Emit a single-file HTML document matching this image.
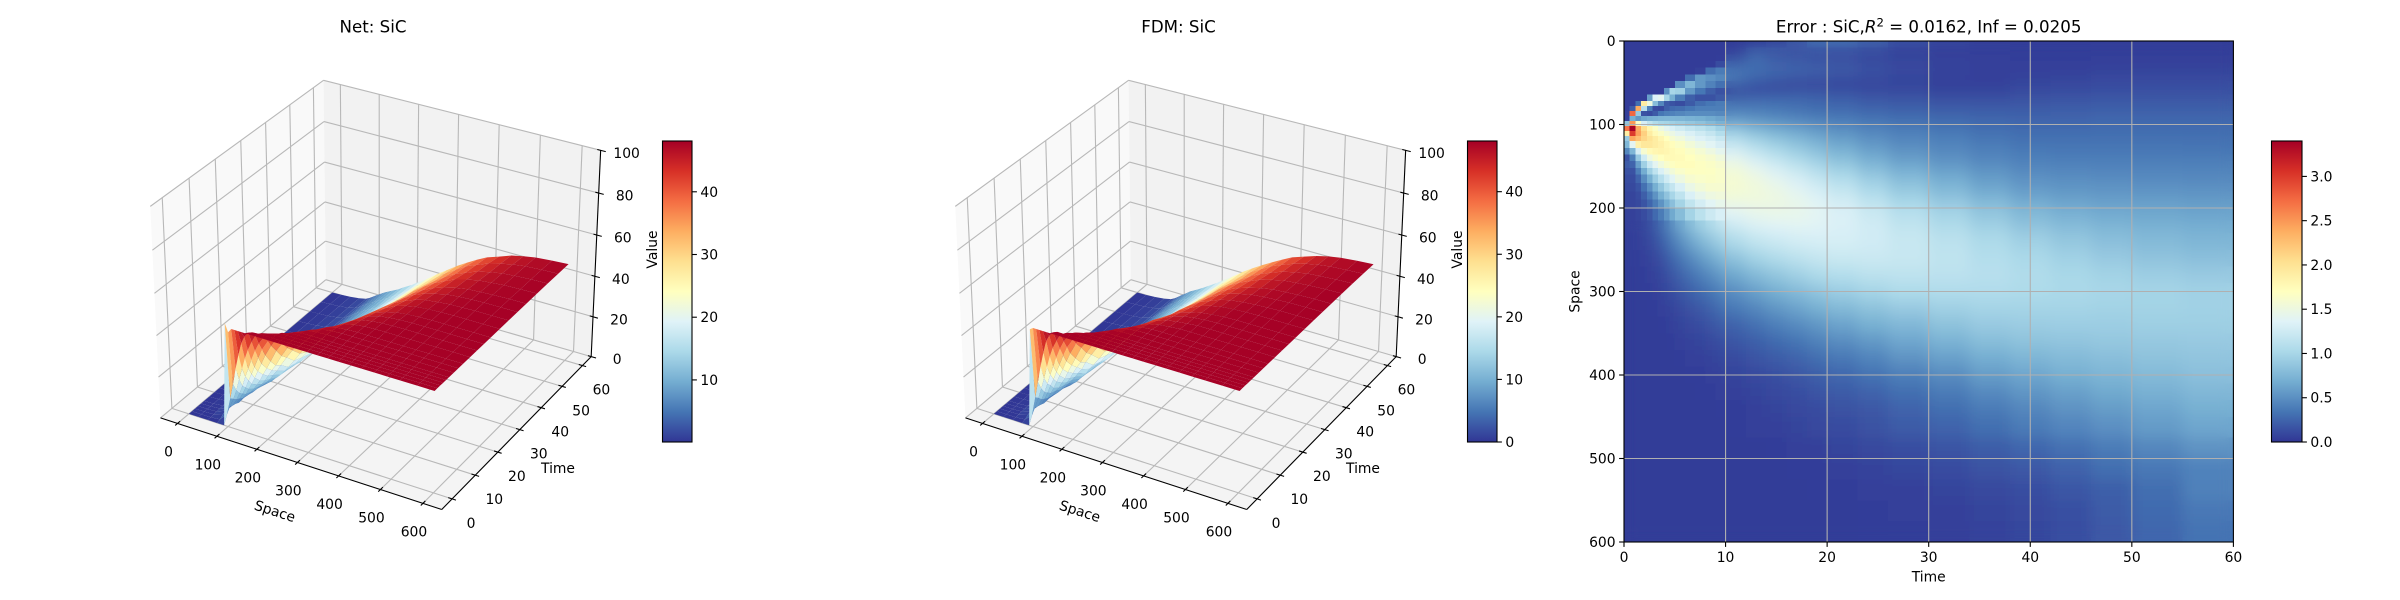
<!DOCTYPE html>
<html lang="en">
<head>
<meta charset="utf-8">
<title>SiC Net, FDM and Error</title>
<style>
html,body{margin:0;padding:0;background:#fff;}
svg{display:block;}
text{font-family:"DejaVu Sans","Liberation Sans",sans-serif;fill:#000;}
</style>
</head>
<body>
<svg id="figure" xmlns="http://www.w3.org/2000/svg" width="2400" height="600" viewBox="0 0 2400 600">
  <defs>
    <linearGradient id="rdylbu" x1="0" y1="1" x2="0" y2="0">
      <stop offset="0" stop-color="#313695"/><stop offset="0.1" stop-color="#4575b4"/><stop offset="0.2" stop-color="#74add1"/><stop offset="0.3" stop-color="#abd9e9"/><stop offset="0.4" stop-color="#e0f3f8"/><stop offset="0.5" stop-color="#ffffbf"/><stop offset="0.6" stop-color="#fee090"/><stop offset="0.7" stop-color="#fdae61"/><stop offset="0.8" stop-color="#f46d43"/><stop offset="0.9" stop-color="#d73027"/><stop offset="1" stop-color="#a50026"/>
    </linearGradient>
    <filter id="heat-blur" filterUnits="userSpaceOnUse" x="1600" y="20" width="660" height="540"><feGaussianBlur stdDeviation="7"/></filter>
    <clipPath id="heat-clip"><rect x="1624" y="41" width="609.4" height="501"/></clipPath>
  </defs>
  <text x="373" y="32.5" font-size="16.67" text-anchor="middle">Net: SiC</text>
  <text x="1178.5" y="32.5" font-size="16.67" text-anchor="middle">FDM: SiC</text>
  <text x="1928.7" y="32.5" font-size="16.67" text-anchor="middle">Error : SiC,<tspan font-style="italic">R</tspan><tspan dy="-6" font-size="11.7">2</tspan><tspan dy="6"> = 0.0162, Inf = 0.0205</tspan></text>
  <g id="panel-net"></g>
  <g id="panel-fdm"></g>
  <g id="panel-error"></g>
</svg>
<script>
// ---------- surface data ----------
const spaceNodes = [0,24,48,72,90,100,108,116,124,132,140,150,160,175,190,210,230,250,275,300,325,350,375,400,430,460,490,520,560,600];
const timeNodes = [0,1.2,2.4,3.6,4.8,6,8,10,12,15,18,21,24,28,32,36,40,45,50,55,60];
const netValues = [
[0,0,0,0,0,50,46,48,48,48,48,48,48,48,48,48,48,48,48,48,48,48,48,48,48,48,48,48,48,48],
[0,0,0,.5,4,12.5,20,28,35,41,44.5,47,47.8,48,48,48,48,48,48,48,48,48,48,48,48,48,48,48,48,48],
[0,0,.2,1.8,6.5,11,15.7,21.4,27,32.5,37,41.5,45,47,47.8,48,48,48,48,48,48,48,48,48,48,48,48,48,48,48],
[0,0,.3,2.2,6,9.5,13,17,22,26.4,31,36,40,44.3,46.6,47.7,48,48,48,48,48,48,48,48,48,48,48,48,48,48],
[0,.1,.5,2.4,5.5,8.6,11.5,15,18.8,22.5,26.4,31.5,36,40.8,44.5,46.8,47.7,48,48,48,48,48,48,48,48,48,48,48,48,48],
[0,.1,.6,2.4,4.7,7.5,10,13,16,19.4,23,27.4,32,37.5,42,45.3,47,47.8,48,48,48,48,48,48,48,48,48,48,48,48],
[0,.2,.8,2.4,5,7,9,11,13.6,16,19.4,23,27,33,37.5,42.5,45.3,47,47.7,48,48,48,48,48,48,48,48,48,48,48],
[0,.3,.9,2.4,4.5,6.2,8,10,11.7,14,16.7,20,23,28.5,33.2,39,42.8,45.4,47,47.7,48,48,48,48,48,48,48,48,48,48],
[0,.3,1,2.4,4.3,6,7.3,9,10.7,12.5,15,17.6,21,25.6,30,36,40.5,43.5,46,47.2,47.8,48,48,48,48,48,48,48,48,48],
[0,.3,.8,2,3.5,4.7,6,7.2,9,10.4,12,14.5,17,21,25.3,31,36,40,43.5,46,47,47.7,47.9,48,48,48,48,48,48,48],
[0,.3,.8,1.9,3.3,4.4,5.6,7,8.5,10,11.4,13.6,15.7,19.4,23,28.2,33,37.5,41.5,44.5,46.3,47.2,47.7,47.9,48,48,48,48,48,48],
[0,.3,.8,1.8,3,4,5.2,6.5,7.9,9.3,10.7,12.3,14.5,18,21.4,26,31,35,39.6,42.7,45.2,46.6,47.3,47.7,48,48,48,48,48,48],
[0,.3,.7,1.7,2.8,3.8,4.9,6.2,7.6,9,10.2,12,13.8,16.7,20,24.5,28.8,33,37.8,41.3,44,45.6,46.8,47.4,47.8,48,48,48,48,48],
[0,.3,.7,1.6,2.6,3.6,4.7,6,7.3,8.6,10,11.3,13,15.7,18.8,22.7,27,31,35,39.4,42,44.5,46,47,47.5,47.8,48,48,48,48],
[0,.3,.7,1.5,2.5,3.5,4.6,5.8,7,8.3,9.5,10.9,12.3,15,17.6,21.4,25,29,33.5,37.5,40.7,43,45,46.3,47,47.6,47.8,48,48,48],
[0,.3,.6,1.4,2.4,3.4,4.4,5.6,6.8,8,9,10.2,11.7,14,16.3,20,23.7,27,31.6,35.6,39,42,44,45.4,46.7,47.3,47.7,47.9,48,48],
[0,.3,.6,1.3,2.3,3.3,4.3,5.4,6.6,7.8,8.8,10,11.3,13.6,15.7,19,22.5,25.8,30,34,37.5,40.5,42.8,44.5,46,47,47.4,47.7,48,48],
[0,.3,.6,1.3,2.2,3.2,4.2,5.3,6.4,7.4,8.5,9.5,10.7,12.5,15,18,21,24.3,28.2,32.5,36,39,41.3,43.5,45.2,46.4,47,47.5,47.8,48],
[0,.3,.5,1.2,2.1,3.1,4.1,5.2,6.3,7.3,8.3,9.3,10.4,12,14.2,17,20,23.2,27,30.6,34,37.3,40,42,44.3,45.6,46.7,47.2,47.7,47.9],
[0,.3,.5,1.2,2,3,4,5.1,6.2,7.2,8,9.2,10,12,13.8,16.3,19,22.2,25.8,29.3,33,36,39,41,43.4,45,46.2,47,47.5,47.8],
[0,.2,.5,1.1,1.9,2.9,3.9,5,6,7,8,9,10,11.5,13.4,15.7,18.5,21,24.8,28.2,31.6,34.6,37.5,40,42,44.2,45.5,46.5,47.2,47.7]
];
const fdmValues = [
[0,0,0,0,0,47,48,48,48,48,48,48,48,48,48,48,48,48,48,48,48,48,48,48,48,48,48,48,48,48],
[0,0,0,.5,3.5,13,21,29,36,42,45,47.2,48,48,48,48,48,48,48,48,48,48,48,48,48,48,48,48,48,48],
[0,0,.2,1.6,6,11.5,16.5,22,28,33.5,38,42,45.5,47.2,48,48,48,48,48,48,48,48,48,48,48,48,48,48,48,48],
[0,0,.3,2,5.5,9.5,13.5,18,23,27.5,32,37,41,45,47,48,48,48,48,48,48,48,48,48,48,48,48,48,48,48],
[0,.1,.4,2.2,5,8.5,12,16,19.5,23.5,27.5,32.5,37,41.5,45,47,48,48,48,48,48,48,48,48,48,48,48,48,48,48],
[0,.1,.5,2.2,4.4,7.5,10.5,13.5,17,20.5,24,28.5,33,38.5,42.5,45.5,47.2,48,48,48,48,48,48,48,48,48,48,48,48,48],
[0,.1,.6,2.2,4.6,7,9.5,11.5,14.5,17,20.5,24.5,28.5,34.5,38.5,43,45.5,47.2,47.8,48,48,48,48,48,48,48,48,48,48,48],
[0,.2,.7,2.2,4.2,6,8,10.5,12.5,15,18,21.5,24.5,30,34.5,40,43.5,45.8,47.2,47.8,48,48,48,48,48,48,48,48,48,48],
[0,.2,.8,2.2,4,5.8,7.5,9.5,11.5,13.5,16,18.5,22.5,27,31.5,37,41,44,46.2,47.4,47.9,48,48,48,48,48,48,48,48,48],
[0,.2,.7,1.8,3.1,4.3,5.7,7,9,10.7,12.5,15.5,18,22,26.5,32,37,41,44,46,47,47.5,48,48,48,48,48,48,48,48],
[0,.2,.7,1.7,3,4.1,5.3,7,8.5,10,12,14.5,16.5,20.5,24,29.5,34,38.5,42,44.5,46.2,47,47.5,48,48,48,48,48,48,48],
[0,.2,.7,1.6,2.8,3.8,5,6.5,8,9.5,11,13,15,19,22.5,27,32,36,40.5,43,45.2,46.5,47.2,47.7,48,48,48,48,48,48],
[0,.2,.6,1.5,2.6,3.6,4.8,6.2,7.7,9,10.5,12.5,14.5,17.5,21,25.5,30,34,38.5,41.5,44,45.5,46.7,47.3,47.8,48,48,48,48,48],
[0,.2,.6,1.4,2.4,3.5,4.6,6,7.4,8.8,10.3,11.8,13.7,16.5,19.8,24,28,32,35.8,39.8,42.2,44.5,46,47,47.5,47.8,48,48,48,48],
[0,.2,.6,1.3,2.3,3.3,4.5,5.8,7.1,8.5,9.8,11.4,13,15.8,18.5,22.5,26,30,34.4,38,41,43,45,46.2,47,47.5,47.8,48,48,48],
[0,.2,.5,1.2,2.2,3.2,4.3,5.6,6.9,8.2,9.4,10.7,12.3,14.8,17.2,21,24.7,28,32.5,36,39.3,42,44,45.3,46.6,47.2,47.6,47.9,48,48],
[0,.2,.5,1.1,2.1,3.1,4.2,5.4,6.7,8,9.2,10.5,12,14.4,16.6,20,23.5,26.8,31,34.8,38,40.7,42.8,44.4,45.9,46.9,47.3,47.7,48,48],
[0,.2,.5,1.1,2,3,4.1,5.3,6.5,7.6,8.9,10,11.4,13.3,15.9,19,22,25.3,29.2,33.3,36.5,39.2,41.3,43.4,45,46.3,46.9,47.4,47.8,48],
[0,.2,.4,1,1.9,2.9,4,5.2,6.4,7.5,8.7,9.8,11,12.8,15,18,21,24.2,28,31.4,34.5,37.5,40,42,44.2,45.5,46.6,47.1,47.6,47.9],
[0,.2,.4,1,1.8,2.8,3.9,5.1,6.3,7.4,8.4,9.7,10.6,12.8,14.6,17.3,20,23.2,26.8,30,33.5,36.2,39,41,43.3,44.9,46.1,46.9,47.4,47.8],
[0,.1,.4,.9,1.7,2.7,3.8,5,6.1,7.2,8.4,9.5,10.6,12.3,14.2,16.7,19.5,22,25.8,29,32,34.8,37.5,40,42,44,45.4,46.4,47.1,47.6]
];
const spaceTicks = [0,100,200,300,400,500,600];
const timeTicks = [0,10,20,30,40,50,60];
const valueTicks = [0,20,40,60,80,100];
const netColorbarTicks = [10,20,30,40];
const fdmColorbarTicks = [0,10,20,30,40];
// ---------- heatmap data (error in hundredths) ----------
const errorTimeEdges = [0,.56,1.12,1.68,2.24,2.8,3.36,3.92,4.48,5.04,6,7,8,9,10,12,14,16,18,20,23,26,30,34,38,42,46,50,55,60];
const errorSpaceEdges = [0,8,16,24,32,40,48,56,64,72,78,84,90,96,102,108,114,120,128,136,144,152,160,170,180,190,200,215,230,250,270,290,310,330,350,370,390,410,430,450,475,500,525,550,575,600];
const errorValues = [
[3,3,3,3,3,3,3,3,3,3,3,3,3,3,3,4,8,18,30,30,24,14,8,5,4,4,4,4,4],
[3,3,3,3,3,3,3,3,3,3,3,3,3,3,5,20,22,18,14,12,9,6,5,4,4,4,4,4,4],
[3,3,3,3,3,3,3,3,3,3,3,3,3,4,14,30,18,15,14,13,10,8,6,5,4,4,5,5,5],
[3,3,3,3,3,3,3,3,3,3,3,3,4,12,25,28,24,22,20,18,13,10,7,5,5,5,6,6,6],
[3,3,3,3,3,3,3,3,3,3,3,6,30,38,34,30,28,26,24,20,15,11,8,5,5,6,7,8,8],
[3,3,3,3,3,3,3,3,3,3,30,55,50,45,38,28,22,18,16,14,12,9,6,5,7,8,10,11,11],
[3,3,3,3,3,3,3,3,3,50,75,55,42,32,22,14,10,9,8,8,8,8,6,6,9,10,12,13,13],
[3,3,3,3,3,3,3,50,100,95,55,35,22,15,10,12,14,16,16,14,12,10,8,8,11,12,13,14,14],
[3,3,3,3,60,135,140,100,70,40,22,15,15,20,22,25,26,26,24,22,18,16,14,14,15,16,17,18,18],
[3,3,30,190,150,80,45,20,15,12,20,30,35,38,36,36,34,30,28,26,22,20,18,18,18,19,20,20,20],
[3,20,240,110,40,12,10,22,28,30,35,40,40,40,38,36,34,32,28,26,24,22,20,20,20,21,22,22,22],
[5,275,90,15,12,20,35,40,42,45,48,48,48,46,44,42,40,36,34,32,28,26,24,22,22,23,24,24,24],
[5,70,55,65,70,72,74,75,75,74,72,70,66,62,56,52,48,44,40,37,33,30,28,26,25,25,26,26,26],
[85,250,165,130,115,105,100,98,95,92,88,84,78,72,64,58,54,50,46,42,38,34,30,28,27,27,28,28,28],
[270,338,240,205,180,165,150,140,132,125,118,112,105,96,85,74,66,60,54,48,42,38,34,30,28,28,29,29,29],
[190,300,245,215,190,175,165,155,148,140,132,125,118,108,96,84,75,68,60,53,46,41,37,32,30,30,30,30,30],
[90,240,225,210,200,190,180,170,160,152,142,134,128,120,106,94,84,76,67,58,50,44,40,35,32,32,32,32,32],
[75,140,185,195,195,190,185,178,172,165,155,146,138,130,118,105,94,84,75,65,55,48,43,38,34,34,34,34,33],
[45,75,130,160,175,180,182,180,176,172,165,158,150,142,130,116,104,93,83,72,61,52,46,41,37,36,36,36,35],
[15,40,90,125,150,162,170,175,176,174,170,165,160,152,140,126,114,102,91,80,68,58,50,44,40,39,39,38,38],
[20,25,60,95,122,140,152,162,168,172,172,168,165,160,150,137,124,112,100,88,75,64,55,48,43,42,41,41,41],
[15,15,40,68,95,115,132,145,155,163,168,168,167,163,155,145,133,121,109,97,83,71,61,53,47,45,44,44,43],
[12,12,25,48,70,92,110,125,138,150,160,163,165,163,158,150,140,130,118,106,92,79,68,58,51,49,48,47,46],
[10,10,16,32,50,70,88,105,118,132,147,155,160,160,158,153,146,137,127,115,100,87,75,64,56,53,52,51,50],
[8,8,12,22,36,52,70,85,100,115,132,143,150,153,155,153,149,142,133,122,108,94,82,71,62,58,56,55,54],
[8,8,10,16,26,38,52,68,82,98,116,128,138,144,148,150,149,145,138,128,116,102,90,79,69,64,61,60,58],
[6,6,8,12,18,28,38,52,66,80,98,112,123,131,137,143,145,144,139,132,122,110,98,87,77,71,67,65,63],
[5,5,6,9,13,20,28,38,50,64,80,94,105,114,123,132,136,138,137,132,126,116,105,95,85,79,74,71,69],
[4,4,5,7,10,14,20,28,37,48,62,74,85,94,105,116,122,127,129,129,126,120,112,103,95,88,82,78,75],
[4,4,4,5,7,10,13,19,26,34,45,55,65,74,85,97,105,112,118,121,122,120,115,108,102,96,90,85,82],
[3,3,4,4,5,7,9,13,18,24,32,40,48,56,66,78,87,95,103,108,112,114,113,110,105,101,97,93,90],
[3,3,3,4,4,5,7,9,12,16,22,28,34,41,50,60,70,78,86,93,99,104,106,106,104,102,100,98,96],
[3,3,3,3,4,4,5,6,8,11,15,19,24,30,37,45,54,62,70,77,84,90,95,98,98,98,97,97,96],
[3,3,3,3,3,3,4,4,6,8,10,12,16,20,25,32,40,47,54,62,70,76,84,90,92,93,93,94,94],
[3,3,3,3,3,3,3,3,4,5,7,8,10,13,17,22,28,34,41,48,55,64,72,80,84,86,88,89,90],
[3,3,3,3,3,3,3,3,3,4,5,6,7,9,12,16,20,25,30,36,43,52,60,68,74,78,81,84,86],
[3,3,3,3,3,3,3,3,3,3,4,4,5,6,8,11,14,18,22,27,33,40,48,58,64,70,74,78,82],
[3,3,3,3,3,3,3,3,3,3,3,4,4,5,6,8,10,13,16,20,25,31,38,47,54,60,66,71,76],
[3,3,3,3,3,3,3,3,3,3,3,3,3,4,4,6,8,10,12,15,19,25,31,38,45,52,58,64,70],
[3,3,3,3,3,3,3,3,3,3,3,3,3,3,4,5,6,8,10,12,15,20,25,31,38,44,50,57,64],
[3,3,3,3,3,3,3,3,3,3,3,3,3,3,3,3,4,5,6,8,10,13,16,21,26,32,38,45,52],
[3,3,3,3,3,3,3,3,3,3,3,3,3,3,3,3,3,4,4,5,7,9,12,15,19,24,30,36,42],
[3,3,3,3,3,3,3,3,3,3,3,3,3,3,3,3,3,3,4,4,5,6,8,10,13,17,22,30,41],
[3,3,3,3,3,3,3,3,3,3,3,3,3,3,3,3,3,3,3,3,4,5,6,8,10,14,20,28,36],
[3,3,3,3,3,3,3,3,3,3,3,3,3,3,3,3,3,3,3,3,4,4,5,7,9,13,19,26,33]
];
const errorXTicks = [0,10,20,30,40,50,60];
const errorYTicks = [0,100,200,300,400,500,600];
const errorColorbarTicks = [0,0.5,1,1.5,2,2.5,3];

// ---------- helpers ----------
const NS = 'http://www.w3.org/2000/svg';
const cmapStops = [[49,54,149],[69,117,180],[116,173,209],[171,217,233],[224,243,248],[255,255,191],[254,224,144],[253,174,97],[244,109,67],[215,48,39],[165,0,38]];
function colorAt(f) {
  const g = Math.max(0, Math.min(1, f)) * 10;
  const i = Math.min(9, Math.floor(g));
  const k = g - i;
  const a = cmapStops[i], b = cmapStops[i + 1];
  return 'rgb(' + Math.round(a[0] + (b[0] - a[0]) * k) + ',' + Math.round(a[1] + (b[1] - a[1]) * k) + ',' + Math.round(a[2] + (b[2] - a[2]) * k) + ')';
}
function make(tag, attrs, parent) {
  const el = document.createElementNS(NS, tag);
  for (const k in attrs) el.setAttribute(k, attrs[k]);
  parent.appendChild(el);
  return el;
}
function seg(parent, a, b, color, width) {
  return make('line', {x1: a[0], y1: a[1], x2: b[0], y2: b[1], stroke: color, 'stroke-width': width}, parent);
}
function label(parent, str, x, y, anchor, rot) {
  const attrs = {x: x, y: y, 'font-size': 13.89, 'text-anchor': anchor || 'middle'};
  if (rot) attrs.transform = 'rotate(' + rot + ' ' + x + ' ' + (y - 5) + ')';
  const el = make('text', attrs, parent);
  el.textContent = str;
  return el;
}

// ---------- 3D projection ----------
const sLim = [-43.75, 643.75], tLim = [-4.375, 64.375], zLim = [0, 100];
const box = [1.19, 1.19, 0.893];
const rad = Math.PI / 180, elev = 30 * rad, azim = -60 * rad, camDist = 10;
const wDir = [Math.cos(elev) * Math.cos(azim), Math.cos(elev) * Math.sin(azim), Math.sin(elev)];
const eye = [box[0] / 2 + camDist * wDir[0], box[1] / 2 + camDist * wDir[1], box[2] / 2 + camDist * wDir[2]];
const uLen = Math.hypot(wDir[0], wDir[1]);
const uDir = [-wDir[1] / uLen, wDir[0] / uLen, 0];
const vDir = [wDir[1] * uDir[2] - wDir[2] * uDir[1], wDir[2] * uDir[0] - wDir[0] * uDir[2], wDir[0] * uDir[1] - wDir[1] * uDir[0]];
function viewOf(s, t, z) {
  const d = [
    (s - sLim[0]) / (sLim[1] - sLim[0]) * box[0] - eye[0],
    (t - tLim[0]) / (tLim[1] - tLim[0]) * box[1] - eye[1],
    (z - zLim[0]) / (zLim[1] - zLim[0]) * box[2] - eye[2]
  ];
  const xv = uDir[0] * d[0] + uDir[1] * d[1] + uDir[2] * d[2];
  const yv = vDir[0] * d[0] + vDir[1] * d[1] + vDir[2] * d[2];
  const zv = wDir[0] * d[0] + wDir[1] * d[1] + wDir[2] * d[2];
  return [xv / -zv, yv / -zv, zv];
}
// calibration of the projected box to the figure's pixels
const frameAnchors = [
  [sLim[0], tLim[0], 0, 160.5, 417.5], [sLim[1], tLim[0], 0, 442.8, 509.8], [sLim[1], tLim[1], 0, 591, 356.7],
  [sLim[1], tLim[1], 100, 600.5, 150.2], [sLim[0], tLim[1], 100, 324, 80.4], [sLim[0], tLim[0], 100, 150.4, 206.7],
  [sLim[0], tLim[1], 0, 324.5, 279.4]
];
function fitLine(xs, ys) {
  const n = xs.length;
  let sx = 0, sy = 0, sxx = 0, sxy = 0;
  for (let i = 0; i < n; i++) { sx += xs[i]; sy += ys[i]; sxx += xs[i] * xs[i]; sxy += xs[i] * ys[i]; }
  const b = (n * sxy - sx * sy) / (n * sxx - sx * sx);
  return [(sy - b * sx) / n, b];
}
const anchorViews = frameAnchors.map(a => viewOf(a[0], a[1], a[2]));
const fitX = fitLine(anchorViews.map(v => v[0]), frameAnchors.map(a => a[3]));
const fitY = fitLine(anchorViews.map(v => v[1]), frameAnchors.map(a => a[4]));
function project(s, t, z) {
  const v = viewOf(s, t, z);
  return [fitX[0] + fitX[1] * v[0], fitY[0] + fitY[1] * v[1], v[2]];
}

function drawColorbar(parent, x0, x1, vmin, vmax, ticks, fmt) {
  const y0 = 141, y1 = 442;
  const g = make('g', {}, parent);
  
  
  const bar = make('rect', {x: x0, y: y0, width: x1 - x0, height: y1 - y0, fill: 'url(#rdylbu)', stroke: '#000', 'stroke-width': 1.1}, g);
  
  
  ticks.forEach(v => {
    const y = y1 - (v - vmin) / (vmax - vmin) * (y1 - y0);
    const tick = seg(g, [x1, y], [x1 + 4.9, y], '#000', 1.1);
    
    
    const txt = label(g, fmt(v), x1 + 8.4, y + 5, 'start');
    
    
  });
}

function drawSurfacePanel(root, dx, values, vmin, vmax, cbarTicks) {
  const g = make('g', {transform: 'translate(' + dx + ' 0)'}, root);
  
  
  const P = (s, t, z) => project(s, t, z);
  const s0 = sLim[0], s1 = sLim[1], t0 = tLim[0], t1 = tLim[1];
  const pts = arr => arr.map(p => p[0].toFixed(2) + ',' + p[1].toFixed(2)).join(' ');
  // panes
  const leftWall = make('polygon', {points: pts([P(s0, t0, 0), P(s0, t1, 0), P(s0, t1, 100), P(s0, t0, 100)]), fill: '#f9f9f9'}, g);
  
  
  const backWall = make('polygon', {points: pts([P(s0, t1, 0), P(s1, t1, 0), P(s1, t1, 100), P(s0, t1, 100)]), fill: '#f2f2f2'}, g);
  
  
  const floorPane = make('polygon', {points: pts([P(s0, t0, 0), P(s1, t0, 0), P(s1, t1, 0), P(s0, t1, 0)]), fill: '#f4f4f4'}, g);
  
  
  // grid
  const gridColor = '#b8b8b8', gw = 1.1;
  spaceTicks.forEach(s => {
    const a = seg(g, P(s, t0, 0), P(s, t1, 0), gridColor, gw);
    
    
    const b = seg(g, P(s, t1, 0), P(s, t1, 100), gridColor, gw);
    
    
  });
  timeTicks.forEach(t => {
    const a = seg(g, P(s0, t, 0), P(s1, t, 0), gridColor, gw);
    
    
    const b = seg(g, P(s0, t, 0), P(s0, t, 100), gridColor, gw);
    
    
  });
  valueTicks.forEach(z => {
    const a = seg(g, P(s0, t0, z), P(s0, t1, z), gridColor, gw);
    
    
    const b = seg(g, P(s0, t1, z), P(s1, t1, z), gridColor, gw);
    
    
  });
  // axis lines
  const axS = seg(g, P(s0, t0, 0), P(s1, t0, 0), '#000', 1.1);
  
  
  const axT = seg(g, P(s1, t0, 0), P(s1, t1, 0), '#000', 1.1);
  
  
  const axZ = seg(g, P(s1, t1, 0), P(s1, t1, 100), '#000', 1.1);
  
  
  // ticks + labels
  spaceTicks.forEach(s => {
    const m = seg(g, P(s, t0 - 0.9, 0), P(s, t0 + 1, 0), '#000', 1.1);
    
    
    const p = P(s, t0, 0);
    const txt = label(g, String(s), p[0] - 9, p[1] + 33, 'middle');
    
    
  });
  timeTicks.forEach(t => {
    const m = seg(g, P(s1 - 9, t, 0), P(s1 + 9, t, 0), '#000', 1.1);
    
    
    const p = P(s1, t, 0);
    const txt = label(g, String(t), p[0] + 19, p[1] + 29, 'middle');
    
    
  });
  valueTicks.forEach(z => {
    const m = seg(g, P(s1 - 8, t1, z), P(s1 + 12, t1, z), '#000', 1.1);
    
    
    const p = P(s1, t1, z);
    const txt = label(g, String(z), p[0] + 26, p[1] + 7.5, 'middle');
    
    
  });
  const spaceTitle = label(g, 'Space', 275, 516, 'middle', 18);
  
  
  const timeTitle = label(g, 'Time', 558, 473, 'middle');
  
  
  const valueTitle = label(g, 'Value', 652, 254.5, 'middle', -90);
  
  
  // surface facets, far to near
  const facets = [];
  for (let i = 0; i < timeNodes.length - 1; i++) {
    for (let j = 0; j < spaceNodes.length - 1; j++) {
      const a = P(spaceNodes[j], timeNodes[i], values[i][j]);
      const b = P(spaceNodes[j + 1], timeNodes[i], values[i][j + 1]);
      const c = P(spaceNodes[j + 1], timeNodes[i + 1], values[i + 1][j + 1]);
      const d = P(spaceNodes[j], timeNodes[i + 1], values[i + 1][j]);
      const mean = (values[i][j] + values[i][j + 1] + values[i + 1][j + 1] + values[i + 1][j]) / 4;
      facets.push({poly: [a, b, c, d], depth: (a[2] + b[2] + c[2] + d[2]) / 4, mean: mean});
    }
  }
  facets.sort((p, q) => p.depth - q.depth);
  const surface = make('g', {}, g);
  
  
  facets.forEach(f => {
    const poly = make('polygon', {points: pts(f.poly), fill: colorAt((f.mean - vmin) / (vmax - vmin))}, surface);
    
    
  });
  drawColorbar(g, 662.5, 692, vmin, vmax, cbarTicks, v => String(v));
}

function drawHeatmap(root) {
  const x0 = 1624, x1 = 2233.4, y0 = 41, y1 = 542;
  const xScale = t => x0 + t / 60 * (x1 - x0);
  const yScale = s => y0 + s / 600 * (y1 - y0);
  const vmax = 3.4;
  const clip = make('g', {'clip-path': 'url(#heat-clip)'}, root);
  
  
  const coarse = make('g', {id: 'heat-coarse', 'shape-rendering': 'crispEdges'}, clip);
  
  
  const soft = make('use', {href: '#heat-coarse', filter: 'url(#heat-blur)'}, clip);
  
  
  const fine = make('g', {'shape-rendering': 'crispEdges'}, clip);
  
  
  errorValues.forEach((row, r) => {
    row.forEach((v, c) => {
      const tA = errorTimeEdges[c], tB = errorTimeEdges[c + 1], sA = errorSpaceEdges[r], sB = errorSpaceEdges[r + 1];
      const parent = (tA >= 10 || sA >= 215) ? coarse : fine;
      const cell = make('rect', {x: xScale(tA).toFixed(2), y: yScale(sA).toFixed(2), width: (xScale(tB) - xScale(tA)).toFixed(2), height: (yScale(sB) - yScale(sA)).toFixed(2), fill: colorAt(v / 100 / vmax)}, parent);
      
      
    });
  });
  errorXTicks.forEach(t => {
    const x = xScale(t);
    if (t > 0 && t < 60) {
      const gl = seg(root, [x, y0], [x, y1], '#b0b0b0', 1.1);
      
      
    }
    const m = seg(root, [x, y1], [x, y1 + 4.9], '#000', 1.1);
    
    
    const txt = label(root, String(t), x, y1 + 20.2, 'middle');
    
    
  });
  errorYTicks.forEach(s => {
    const y = yScale(s);
    if (s > 0 && s < 600) {
      const gl = seg(root, [x0, y], [x1, y], '#b0b0b0', 1.1);
      
      
    }
    const m = seg(root, [x0 - 4.9, y], [x0, y], '#000', 1.1);
    
    
    const txt = label(root, String(s), x0 - 8.4, y + 5, 'end');
    
    
  });
  const frame = make('rect', {x: x0, y: y0, width: x1 - x0, height: y1 - y0, fill: 'none', stroke: '#000', 'stroke-width': 1.1}, root);
  
  
  const tt = label(root, 'Time', (x0 + x1) / 2, 581.5, 'middle');
  
  
  const st = label(root, 'Space', 1574.5, 296.5, 'middle', -90);
  
  
  drawColorbar(root, 2271.5, 2302, 0, vmax, errorColorbarTicks, v => v.toFixed(1));
}

drawSurfacePanel(document.getElementById('panel-net'), 0, netValues, 0.1, 48.1, netColorbarTicks);
drawSurfacePanel(document.getElementById('panel-fdm'), 805, fdmValues, 0, 48.1, fdmColorbarTicks);
drawHeatmap(document.getElementById('panel-error'));
</script>
</body>
</html>
